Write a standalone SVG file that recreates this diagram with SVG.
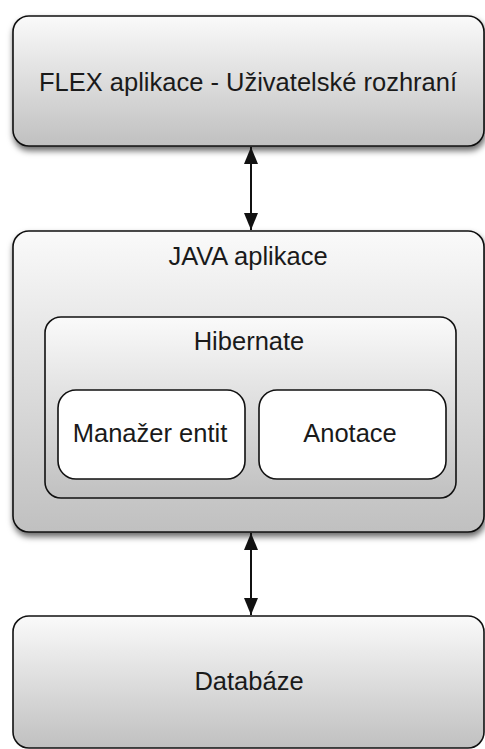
<svg xmlns="http://www.w3.org/2000/svg" width="485" height="749" viewBox="0 0 485 749">
<style>
text{font-family:"Liberation Sans",Arial,sans-serif;fill:#1a1a1a;text-anchor:middle;font-size:25.5px}
.box{stroke:#111;stroke-width:1.6;fill:url(#g)}
.wbox{stroke:#111;stroke-width:1.6;fill:#fff}
.conn{stroke:#111;stroke-width:2;fill:none}
</style>
<defs>
<linearGradient id="g" x1="0" y1="0" x2="0" y2="1">
<stop offset="0" stop-color="#fafafa"/>
<stop offset="1" stop-color="#c0c0c0"/>
</linearGradient>
<filter id="sh" x="-10%" y="-10%" width="120%" height="130%">
<feDropShadow dx="1" dy="4" stdDeviation="3" flood-color="#000" flood-opacity="0.6"/>
</filter>
<marker id="ah" viewBox="0 0 17 14" refX="17" refY="7" markerWidth="17" markerHeight="14" markerUnits="userSpaceOnUse" orient="auto-start-reverse">
<path d="M0,0 L17,7 L0,14 Z" fill="#111"/>
</marker>
</defs>
<g id="flex">
<rect class="box" x="13" y="16" width="471" height="130" rx="16" filter="url(#sh)"/>
<text x="248" y="91">FLEX aplikace - Uživatelské rozhraní</text>
</g>
<g id="java">
<rect class="box" x="13" y="231" width="471" height="301" rx="16" filter="url(#sh)"/>
<text x="248" y="265">JAVA aplikace</text>
</g>
<g id="hibernate">
<rect class="box" x="45" y="317" width="411" height="181" rx="16"/>
<text x="249" y="350">Hibernate</text>
</g>
<g id="manazer">
<rect class="wbox" x="58" y="390" width="187" height="89" rx="18"/>
<text x="150" y="442">Manažer entit</text>
</g>
<g id="anotace">
<rect class="wbox" x="259" y="390" width="187" height="89" rx="18"/>
<text x="350" y="442">Anotace</text>
</g>
<g id="databaze">
<rect class="box" x="13" y="616" width="471" height="132" rx="16"/>
<text x="249" y="690">Databáze</text>
</g>
<g id="connectors">
<line class="conn" x1="251" y1="147" x2="251" y2="230" marker-start="url(#ah)" marker-end="url(#ah)"/>
<line class="conn" x1="251" y1="533" x2="251" y2="615" marker-start="url(#ah)" marker-end="url(#ah)"/>
</g>
</svg>
